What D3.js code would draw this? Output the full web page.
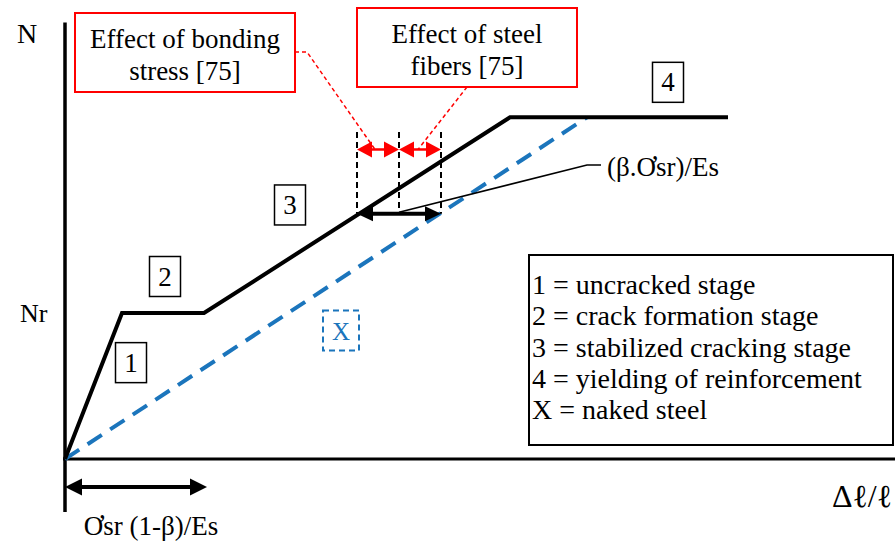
<!DOCTYPE html>
<html>
<head>
<meta charset="utf-8">
<script src="https://cdn.jsdelivr.net/npm/d3@7"></script>
<style>
  html, body { margin: 0; padding: 0; background: #fff; }
  svg { display: block; }
  text { font-family: "Liberation Serif", "Times New Roman", Times, serif; fill: #000; }
</style>
</head>
<body>
<svg id="chart" width="895" height="544"></svg>
<script>
// ---- Data (schematic tension-stiffening curve) ----
const stageStrain = [0, 0.57, 1.39, 4.45, 6.63];   // Δℓ/ℓ (arbitrary units)
const stageForce  = [0, 1.0, 1.0, 2.34, 2.34];     // N / Nr
const steelStrain = [0, 5.22];                      // naked steel
const steelForce  = [0, 2.34];
const stageLabels = ["1", "2", "3", "4"];
const stageLabelStrain = [0.66, 1.00, 2.25, 6.03];
const stageLabelForce  = [0.66, 1.25, 1.74, 2.58];
const legendItems = [
  "1 = uncracked stage",
  "2 = crack formation stage",
  "3 = stabilized cracking stage",
  "4 = yielding of reinforcement",
  "X = naked steel"
];
const yTickLabels = ["Nr"];
const yTickValues = [1.0];
const fiberMarks = [2.92, 3.34, 3.76];   // strain positions of the dashed guides

const svg = d3.select("#chart");
const x = d3.scaleLinear().domain([0, 8.3]).range([65, 895]);
const y = d3.scaleLinear().domain([0, 3]).range([459, 21]);

const BLUE = "#1B75BC", RED = "#FF0000";

// ---- axes ----
svg.append("line").attr("x1", x(0)).attr("x2", x(0)).attr("y1", y(2.99)).attr("y2", 512)
  .attr("stroke", "#000").attr("stroke-width", 3.5);
svg.append("line").attr("x1", x(0) - 2).attr("x2", 895).attr("y1", y(0)).attr("y2", y(0))
  .attr("stroke", "#000").attr("stroke-width", 3);

svg.append("text").attr("x", 17).attr("y", 43).attr("font-size", 28).text("N");
svg.selectAll(".ytick").data(yTickValues).join("text")
  .attr("x", 20).attr("y", d => y(d) + 9).attr("font-size", 26)
  .text((d, i) => yTickLabels[i]);
svg.append("text").attr("x", 892).attr("y", 507).attr("text-anchor", "end")
  .attr("font-size", 32).text("Δℓ/ℓ");

// ---- curves ----
const line = d3.line().x(d => x(d[0])).y(d => y(d[1]));
svg.append("path").datum(steelStrain.map((s, i) => [s, steelForce[i]]))
  .attr("d", line).attr("fill", "none").attr("stroke", BLUE)
  .attr("stroke-width", 4).attr("stroke-dasharray", "17,10");
svg.append("path").datum(stageStrain.map((s, i) => [s, stageForce[i]]))
  .attr("d", line).attr("fill", "none").attr("stroke", "#000")
  .attr("stroke-width", 4).attr("stroke-linejoin", "miter");

// ---- stage number boxes ----
const sg = svg.selectAll(".stage").data(stageLabels).join("g")
  .attr("transform", (d, i) => `translate(${x(stageLabelStrain[i])},${y(stageLabelForce[i])})`);
sg.append("rect").attr("x", -15.5).attr("y", -20).attr("width", 31).attr("height", 40)
  .attr("fill", "#fff").attr("stroke", "#000").attr("stroke-width", 1.5);
sg.append("text").attr("text-anchor", "middle").attr("y", 9).attr("font-size", 27).text(d => d);

// X label box
const xg = svg.append("g").attr("transform", `translate(${x(2.76)},${y(0.88)})`);
xg.append("rect").attr("x", -18).attr("y", -20).attr("width", 36).attr("height", 40)
  .attr("fill", "none").attr("stroke", BLUE).attr("stroke-width", 2).attr("stroke-dasharray", "6,4");
xg.append("text").attr("text-anchor", "middle").attr("y", 9).attr("font-size", 25)
  .style("fill", BLUE).text("X");

// ---- helper: double-headed arrow ----
function doubleArrow(x1, x2, yy, color, lw, hl, hh) {
  const g = svg.append("g");
  g.append("line").attr("x1", x1 + hl - 1).attr("x2", x2 - hl + 1).attr("y1", yy).attr("y2", yy)
    .attr("stroke", color).attr("stroke-width", lw);
  g.append("path").attr("d", `M${x1},${yy} L${x1 + hl},${yy - hh / 2} L${x1 + hl},${yy + hh / 2} Z`).attr("fill", color);
  g.append("path").attr("d", `M${x2},${yy} L${x2 - hl},${yy - hh / 2} L${x2 - hl},${yy + hh / 2} Z`).attr("fill", color);
}

// dashed vertical guides
svg.selectAll(".guide").data(fiberMarks).join("line")
  .attr("x1", d => x(d)).attr("x2", d => x(d))
  .attr("y1", y(2.24)).attr("y2", y(1.68))
  .attr("stroke", "#000").attr("stroke-width", 2).attr("stroke-dasharray", "6,4");

// red arrows
doubleArrow(x(fiberMarks[0]), x(fiberMarks[1]), y(2.12), RED, 2.5, 15, 16);
doubleArrow(x(fiberMarks[1]), x(fiberMarks[2]), y(2.12), RED, 2.5, 15, 16);

// black β arrow
doubleArrow(x(fiberMarks[0]), x(fiberMarks[2]), y(1.68), "#000", 4, 16, 15);

// bottom arrow
doubleArrow(x(0), x(1.42), 487, "#000", 4, 17, 17);
svg.append("text").attr("x", x(0.86)).attr("y", 535).attr("text-anchor", "middle")
  .attr("font-size", 27).text("Ơsr (1-β)/Es");

// leader for (β.Ơsr)/Es
svg.append("path")
  .attr("d", `M${x(fiberMarks[1])},${y(1.69)} L587,165 L601,165`)
  .attr("fill", "none").attr("stroke", "#000").attr("stroke-width", 1.5);
svg.append("text").attr("x", 607).attr("y", 176).attr("font-size", 27).text("(β.Ơsr)/Es");

// ---- red callouts ----
svg.append("path").attr("d", `M295,52 L307,52 L${x(3.1)},${y(2.12)}`)
  .attr("fill", "none").attr("stroke", RED).attr("stroke-width", 1.5).attr("stroke-dasharray", "4,3");
svg.append("path").attr("d", `M467,87 L${x(3.53)},${y(2.12)}`)
  .attr("fill", "none").attr("stroke", RED).attr("stroke-width", 1.5).attr("stroke-dasharray", "4,3");

function callout(x0, y0, w, h, lines, bl) {
  svg.append("rect").attr("x", x0).attr("y", y0).attr("width", w).attr("height", h)
    .attr("fill", "#fff").attr("stroke", RED).attr("stroke-width", 2);
  lines.forEach((t, i) => {
    svg.append("text").attr("x", x0 + w / 2).attr("y", bl[i]).attr("text-anchor", "middle")
      .attr("font-size", 27).text(t);
  });
}
callout(75, 13, 220, 79, ["Effect of bonding", "stress [75]"], [48, 80]);
callout(357, 8, 220, 79, ["Effect of steel", "fibers [75]"], [43, 75]);

// ---- legend ----
svg.append("rect").attr("x", 529).attr("y", 255).attr("width", 364).attr("height", 190)
  .attr("fill", "#fff").attr("stroke", "#000").attr("stroke-width", 2);
svg.selectAll(".leg").data(legendItems).join("text")
  .attr("x", 532).attr("y", (d, i) => 294 + i * 31.3).attr("font-size", 28).text(d => d);
</script>
</body>
</html>
